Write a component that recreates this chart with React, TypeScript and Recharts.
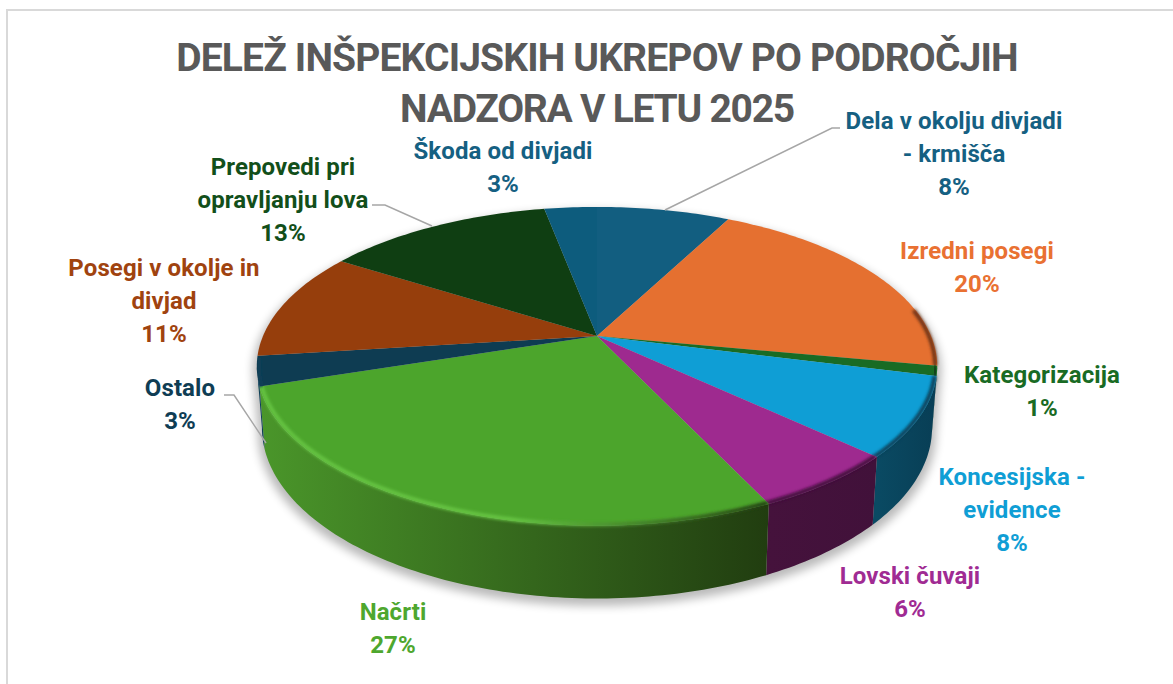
import React from 'react';
import { PieChart, Pie } from 'recharts';

const categories = [
  'Dela v okolju divjadi - krmišča', 'Izredni posegi', 'Kategorizacija', 'Koncesijska - evidence', 'Lovski čuvaji',
  'Načrti', 'Ostalo', 'Posegi v okolje in divjad', 'Prepovedi pri opravljanju lova', 'Škoda od divjadi',
];
const shares = [7.6, 20.4, 1, 8, 6, 27, 3, 11, 13, 3];

const topColors = ['#125e80', '#e57030', '#196b24', '#0f9ed5', '#9e2a8f', '#4ca52c', '#0e3c52', '#963e0c', '#0f3e12', '#0d5c7d'];
const labelColors = ['#156082', '#e97132', '#196b24', '#0f9ed5', '#a02b93', '#4ea72e', '#0f3d54', '#a0430f', '#124f1a', '#156082'];
const wallLeft = ['#0a3346', '#7a3a18', '#0d3a13', '#0a4a63', '#45123c', '#4a962a', '#0e3f58', '#5a2606', '#082507', '#08364a'];
const wallRight = ['#0a3346', '#5a2a10', '#0d3a13', '#083e55', '#41113a', '#213d10', '#0e3f58', '#5a2606', '#082507', '#08364a'];
const rimLeft = ['#0a3346', '#6d3315', '#0d3a13', '#083e55', '#41113a', '#66c443', '#0e3f58', '#5a2606', '#082507', '#08364a'];
const rimRight = ['#0a3346', '#6d3315', '#0d3a13', '#083e55', '#41113a', '#213d10', '#0e3f58', '#5a2606', '#082507', '#08364a'];

const labelLines = [
  ['Dela v okolju divjadi', '- krmišča', '8%'],
  ['Izredni posegi', '20%'],
  ['Kategorizacija', '1%'],
  ['Koncesijska -', 'evidence', '8%'],
  ['Lovski čuvaji', '6%'],
  ['Načrti', '27%'],
  ['Ostalo', '3%'],
  ['Posegi v okolje in', 'divjad', '11%'],
  ['Prepovedi pri', 'opravljanju lova', '13%'],
  ['Škoda od divjadi', '3%'],
];
const labelX = [954, 977, 1042, 1012, 910, 393, 180, 164, 283, 503];
const labelBaseY = [129, 259, 383, 485, 584, 620, 396, 276, 175, 159];
const leaders: Record<number, number[][]> = {
  0: [[665, 210], [832, 128], [840, 128]],
  6: [[266, 443], [234, 395], [224, 395]],
  8: [[432, 226], [385, 205], [372, 205]],
};

const data = categories.map((name, i) => ({ name, value: shares[i] }));

// perspective of the tilted disc
const TILT = 0.19;
const SQUASH = 0.46;
const DEPTH = 59;
const FRONT_FROM = 101;
const FRONT_TO = 259;
const BEVEL_FROM = 80;
const BEVEL_TO = 262;
const BASE_SHRINK = 0.985;

const project = (cx: number, cy: number, r: number, deg: number, drop = 0) => {
  const rad = (deg * Math.PI) / 180;
  const u = Math.sin(rad);
  const v = -Math.cos(rad);
  const w = 1 - TILT * v;
  const shrink = drop ? BASE_SHRINK : 1;
  return [cx + ((r * u) / w) * shrink, cy + (r * SQUASH * v) / w + drop / w];
};

const rimPoints = (cx: number, cy: number, r: number, from: number, to: number, drop = 0) => {
  const pts: number[][] = [];
  const steps = Math.max(2, Math.ceil(to - from));
  for (let i = 0; i <= steps; i++) pts.push(project(cx, cy, r, from + ((to - from) * i) / steps, drop));
  return pts;
};

const toPath = (pts: number[][]) => pts.map((p, i) => `${i ? 'L' : 'M'}${p[0].toFixed(2)} ${p[1].toFixed(2)}`).join(' ');

const ShadowShape = (props: any) => {
  const { cx, cy, outerRadius, startAngle } = props;
  if (startAngle !== 90) return <g />;
  const top = rimPoints(cx, cy + 5, outerRadius + 4, FRONT_TO - 360, FRONT_FROM);
  const bottom = rimPoints(cx, cy + 5, outerRadius + 4, FRONT_FROM, FRONT_TO, DEPTH);
  return (
    <g>
      <defs>
        <filter id="discShadow" x="-10%" y="-10%" width="120%" height="120%">
          <feGaussianBlur stdDeviation="5" />
        </filter>
      </defs>
      <path d={`${toPath(top)} ${toPath(bottom).replace('M', 'L')} Z`} fill="#000" opacity={0.27} filter="url(#discShadow)" />
    </g>
  );
};

const SliceShape = (props: any) => {
  const { cx, cy, outerRadius, startAngle, endAngle, index } = props;
  const from = 90 - startAngle;
  const to = 90 - endAngle;
  const wallFrom = Math.max(from, FRONT_FROM);
  const wallTo = Math.min(to, FRONT_TO);
  const hasWall = wallTo > wallFrom;
  const bevelFrom = Math.max(from, BEVEL_FROM);
  const bevelTo = Math.min(to, BEVEL_TO);
  const hasBevel = bevelTo > bevelFrom;
  const rim = rimPoints(cx, cy, outerRadius, from, to);
  const xs = rim.map(p => p[0]);
  const x1 = Math.min(...xs);
  const x2 = Math.max(...xs);
  const wallTop = hasWall ? rimPoints(cx, cy, outerRadius, wallFrom, wallTo) : [];
  const wallBottom = hasWall ? rimPoints(cx, cy, outerRadius, wallFrom, wallTo, DEPTH).reverse() : [];
  return (
    <g>
      <defs>
        <linearGradient id={`wall${index}`} gradientUnits="userSpaceOnUse" x1={x1} x2={x2} y1={0} y2={0}>
          <stop offset="0" stopColor={wallLeft[index]} />
          <stop offset="1" stopColor={wallRight[index]} />
        </linearGradient>
        <linearGradient id={`rim${index}`} gradientUnits="userSpaceOnUse" x1={x1} x2={x2} y1={0} y2={0}>
          <stop offset="0" stopColor={rimLeft[index]} />
          <stop offset="0.5" stopColor={rimLeft[index]} />
          <stop offset="1" stopColor={rimRight[index]} />
        </linearGradient>
        <filter id={`soft${index}`} x="-20%" y="-20%" width="140%" height="140%">
          <feGaussianBlur stdDeviation="1.6" />
        </filter>
      </defs>
      {hasWall && <path d={`${toPath(wallTop)} ${toPath(wallBottom).replace('M', 'L')} Z`} fill={`url(#wall${index})`} />}
      <path d={`M${cx} ${cy} ${toPath(rim).replace('M', 'L')} Z`} fill={topColors[index]} />
      {hasBevel && (
        <path d={toPath(rimPoints(cx, cy, outerRadius - 2, bevelFrom, bevelTo))} fill="none" stroke={`url(#rim${index})`} strokeWidth={4} filter={`url(#soft${index})`} />
      )}
    </g>
  );
};

const SliceLabel = (props: any) => {
  const { index } = props;
  return (
    <text textAnchor="middle" fontFamily="Roboto" fontWeight={700} fontSize={24} letterSpacing={0.1} fill={labelColors[index]}>
      {labelLines[index].map((line, i) => (
        <tspan key={line} x={labelX[index]} y={labelBaseY[index] + i * 33}>{line}</tspan>
      ))}
    </text>
  );
};

const SliceLeader = (props: any) => {
  const pts = leaders[props.index];
  if (!pts) return <g />;
  return <path d={toPath(pts)} fill="none" stroke="#a6a6a6" strokeWidth={1.5} />;
};

export default function App() {
  return (
    <div style={{ position: 'absolute', left: 0, top: 0, width: 1173, height: 684, background: '#fff', overflow: 'hidden' }}>
      <div style={{ position: 'absolute', left: 6, top: 9, width: 1167, height: 2, background: '#d9d9d9' }} />
      <div style={{ position: 'absolute', left: 6, top: 9, width: 2, height: 675, background: '#d9d9d9' }} />
      <div style={{ position: 'absolute', left: 0, top: 0 }}>
        <PieChart width={1173} height={684} margin={{ top: 0, right: 0, bottom: 0, left: 0 }}>
          <text textAnchor="middle" fontFamily="Roboto" fontWeight={700} fontSize={39} fill="#595959">
            <tspan x={597} y={71} letterSpacing={-0.85}>DELEŽ INŠPEKCIJSKIH UKREPOV PO PODROČJIH</tspan>
            <tspan x={597} y={122} letterSpacing={-1.25}>NADZORA V LETU 2025</tspan>
          </text>
          <Pie data={data} dataKey="value" nameKey="name" cx={597} cy={336} outerRadius={334} startAngle={90} endAngle={-270}
            stroke="none" isAnimationActive={false} shape={ShadowShape} />
          <Pie data={data} dataKey="value" nameKey="name" cx={597} cy={336} outerRadius={334} startAngle={90} endAngle={-270}
            stroke="none" isAnimationActive={false} shape={SliceShape} label={SliceLabel} labelLine={SliceLeader} />
        </PieChart>
      </div>
    </div>
  );
}
